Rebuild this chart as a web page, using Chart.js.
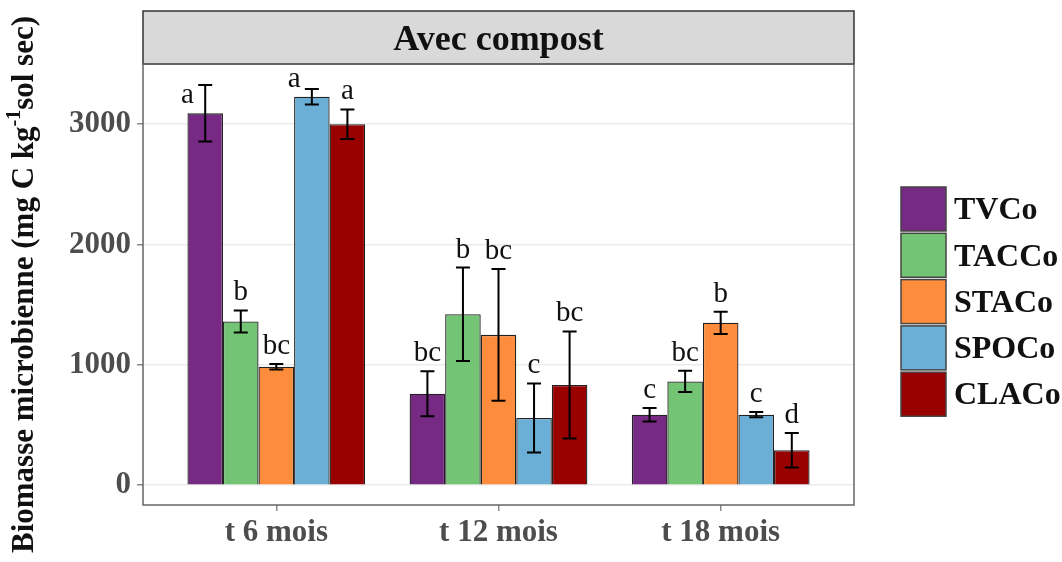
<!DOCTYPE html>
<html>
<head>
<meta charset="utf-8">
<script src="https://cdn.jsdelivr.net/npm/chart.js@4"></script>
<style>
  html, body { margin: 0; padding: 0; background: #fff; }
  #wrap { width: 1062px; height: 562px; }
</style>
</head>
<body>
<div id="wrap"><canvas id="canvas" width="1062" height="562"></canvas></div>
<script>
// sampling dates
var periods = ['t 6 mois', 't 12 mois', 't 18 mois'];
var yTicks = [0, 1000, 2000, 3000];

// means, standard errors and letters per treatment
var tvco = [3090, 760, 585];
var tvcoSe = [235, 187, 57];
var tvcoLet = ['a', 'bc', 'c'];

var tacco = [1360, 1420, 862];
var taccoSe = [92, 388, 88];
var taccoLet = ['b', 'b', 'bc'];

var staco = [984, 1249, 1349];
var stacoSe = [22, 548, 92];
var stacoLet = ['bc', 'bc', 'b'];

var spoco = [3228, 558, 586];
var spocoSe = [64, 287, 22];
var spocoLet = ['a', 'c', 'c'];

var claco = [2999, 832, 290];
var clacoSe = [123, 445, 144];
var clacoLet = ['a', 'bc', 'd'];

var serif = "'Liberation Serif', 'Times New Roman', serif";

function series(label, vals, se, letters, color) {
    return {
        label: label,
        data: vals.map(function (v, i) { return { x: i, y: v }; }),
        se: se,
        letters: letters,
        backgroundColor: color,
        borderColor: '#222',
        borderWidth: 1.3,
        categoryPercentage: 0.8,
        barPercentage: 1.0
    };
}

// strip, panel border, error bars, letters, legend, y title
var decor = {
    id: 'decor',
    beforeDraw: function (chart) {
        var ctx = chart.ctx, a = chart.chartArea;
        ctx.save();
        ctx.fillStyle = '#d9d9d9';
        ctx.fillRect(a.left, 11, a.right - a.left, a.top - 11);
        ctx.strokeStyle = '#333';
        ctx.lineWidth = 1.5;
        ctx.strokeRect(a.left, 11, a.right - a.left, a.top - 11);
        ctx.fillStyle = '#111';
        ctx.font = 'bold 36px ' + serif;
        ctx.textAlign = 'center';
        ctx.textBaseline = 'alphabetic';
        ctx.fillText('Avec compost', (a.left + a.right) / 2, 50);
        ctx.restore();
    },
    afterDatasetsDraw: function (chart) {
        var ctx = chart.ctx, a = chart.chartArea, ys = chart.scales.y;
        ctx.save();
        chart.data.datasets.forEach(function (ds, i) {
            var meta = chart.getDatasetMeta(i);
            meta.data.forEach(function (bar, j) {
                var m = ds.data[j].y, s = ds.se[j];
                var top = ys.getPixelForValue(m + s), bot = ys.getPixelForValue(m - s);
                ctx.strokeStyle = '#000';
                ctx.lineWidth = 2;
                ctx.beginPath();
                ctx.moveTo(bar.x, top); ctx.lineTo(bar.x, bot);
                ctx.moveTo(bar.x - 7, top); ctx.lineTo(bar.x + 7, top);
                ctx.moveTo(bar.x - 7, bot); ctx.lineTo(bar.x + 7, bot);
                ctx.stroke();
                // letter above error bar, moved beside it when no room left
                var lx = bar.x, ly = top - 10;
                if (ly - 20 < a.top) {
                    lx = bar.x - bar.width / 2;
                    ly = bar.y - 10;
                }
                ctx.fillStyle = '#111';
                ctx.font = '29px ' + serif;
                ctx.textAlign = 'center';
                ctx.textBaseline = 'alphabetic';
                ctx.fillText(ds.letters[j], lx, ly);
            });
        });
        ctx.restore();
    },
    afterDraw: function (chart) {
        var ctx = chart.ctx, a = chart.chartArea;
        ctx.save();
        ctx.strokeStyle = '#666';
        ctx.lineWidth = 1.5;
        ctx.strokeRect(a.left, a.top, a.right - a.left, a.bottom - a.top);

        // legend
        chart.data.datasets.forEach(function (ds, i) {
            var y0 = 187 + i * 46.3;
            ctx.fillStyle = ds.backgroundColor;
            ctx.fillRect(901, y0, 45, 44);
            ctx.strokeStyle = '#444';
            ctx.lineWidth = 1.5;
            ctx.strokeRect(901, y0, 45, 44);
            ctx.fillStyle = '#111';
            ctx.font = 'bold 32px ' + serif;
            ctx.textAlign = 'left';
            ctx.textBaseline = 'middle';
            ctx.fillText(ds.label, 954, y0 + 24);
        });

        // y axis title with superscript
        var p1 = 'Biomasse microbienne (mg C kg', sup = '-1', p2 = 'sol sec)';
        var big = 'bold 31px ' + serif, small = 'bold 20px ' + serif;
        ctx.translate(25, (a.top + a.bottom) / 2);
        ctx.rotate(-Math.PI / 2);
        ctx.fillStyle = '#111';
        ctx.textBaseline = 'middle';
        ctx.textAlign = 'left';
        ctx.font = big; var w1 = ctx.measureText(p1).width, w3 = ctx.measureText(p2).width;
        ctx.font = small; var w2 = ctx.measureText(sup).width;
        var x = -(w1 + w2 + w3) / 2;
        ctx.font = big; ctx.fillText(p1, x, 0);
        ctx.font = small; ctx.fillText(sup, x + w1, -10);
        ctx.font = big; ctx.fillText(p2, x + w1 + w2, 0);
        ctx.restore();
    }
};

var ctx = document.getElementById('canvas').getContext('2d');
var myChart = new Chart(ctx, {
    type: 'bar',
    data: {
        datasets: [
            series('TVCo', tvco, tvcoSe, tvcoLet, '#762a83'),
            series('TACCo', tacco, taccoSe, taccoLet, '#74c476'),
            series('STACo', staco, stacoSe, stacoLet, '#fd8d3c'),
            series('SPOCo', spoco, spocoSe, spocoLet, '#6baed6'),
            series('CLACo', claco, clacoSe, clacoLet, '#990000')
        ]
    },
    plugins: [decor],
    options: {
        responsive: false,
        animation: false,
        layout: { padding: { left: 0, right: 208, top: 64, bottom: 0 } },
        plugins: { legend: { display: false }, tooltip: { enabled: false } },
        scales: {
            x: {
                type: 'linear',
                min: -0.6,
                max: 2.6,
                offset: false,
                afterBuildTicks: function (s) { s.ticks = periods.map(function (p, i) { return { value: i }; }); },
                afterFit: function (s) { s.height = 57; },
                grid: { offset: false, drawOnChartArea: false, tickLength: 6, tickColor: '#888', lineWidth: 1.5 },
                border: { display: false },
                ticks: {
                    padding: 3,
                    color: '#4d4d4d',
                    font: { family: serif, size: 31, weight: 'bold' },
                    callback: function (v) { return periods[v]; }
                }
            },
            y: {
                min: -165,
                max: 3500,
                afterBuildTicks: function (s) { s.ticks = yTicks.map(function (v) { return { value: v }; }); },
                afterFit: function (s) { s.width = 143; },
                grid: { color: '#ebebeb', lineWidth: 1.5, tickLength: 6, tickColor: '#888' },
                border: { display: false },
                ticks: {
                    padding: 6,
                    color: '#4d4d4d',
                    font: { family: serif, size: 31, weight: 'bold' },
                    callback: function (v) { return String(v); }
                }
            }
        }
    }
});
</script>
</body>
</html>
